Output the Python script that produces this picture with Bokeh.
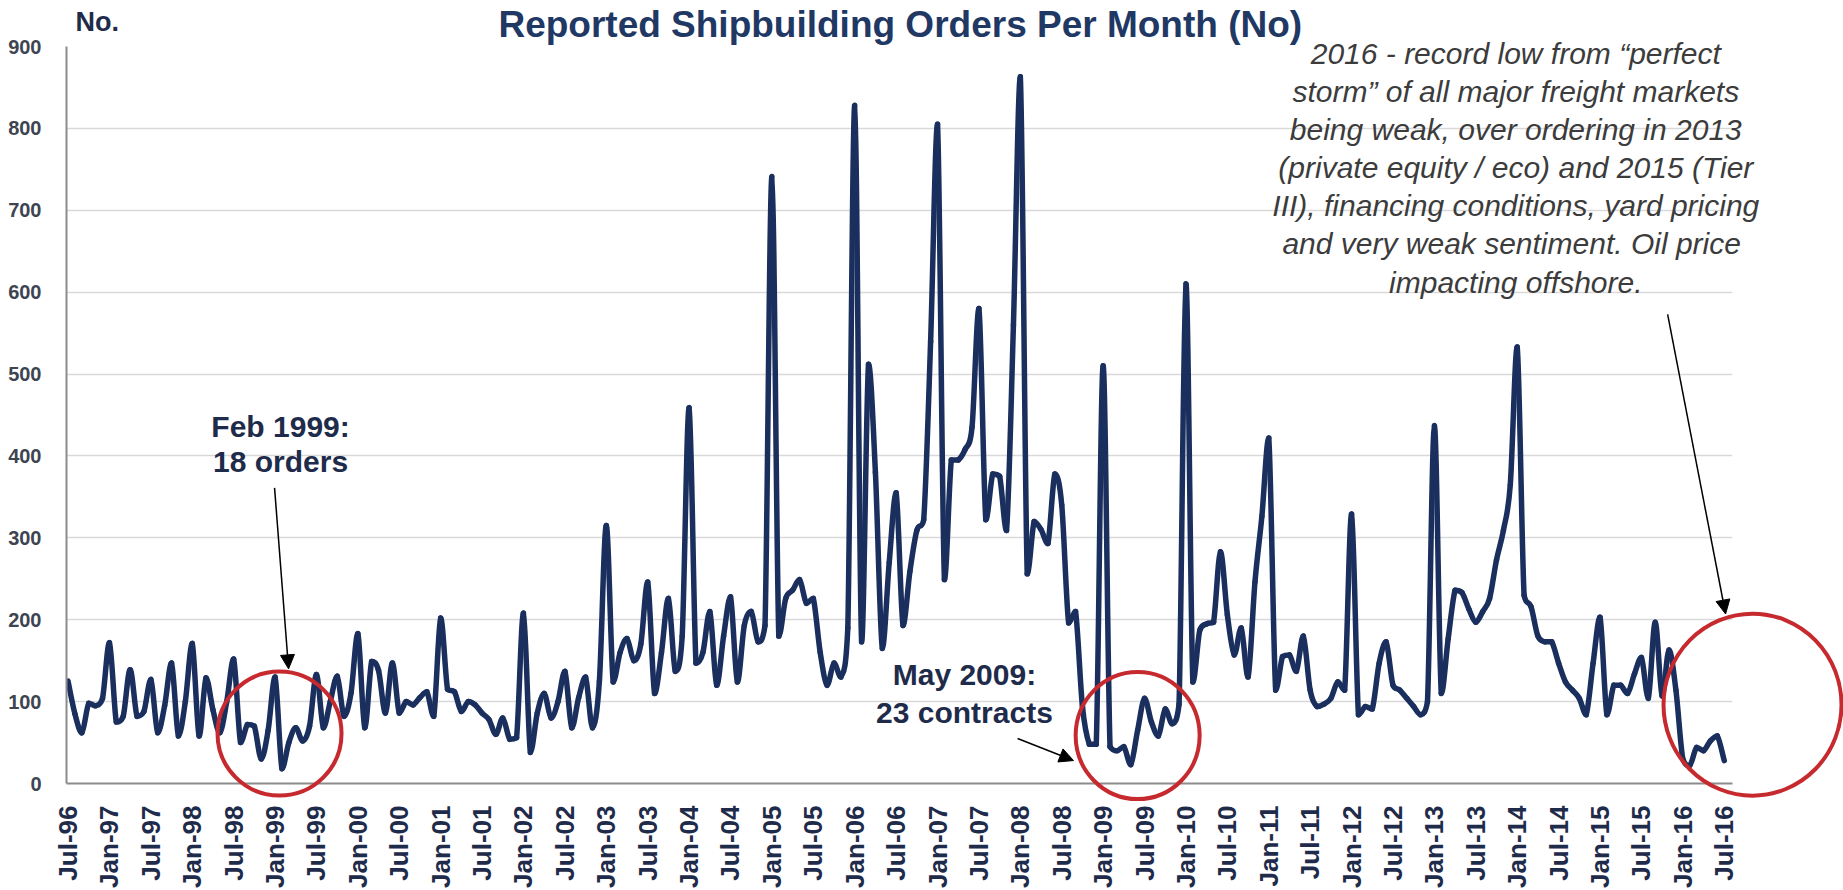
import math

from bokeh.plotting import figure
from bokeh.models import Range1d, FixedTicker, Arrow, NormalHead, ColumnDataSource
from bokeh.core.properties import value
from bokeh.embed import file_html
from bokeh.resources import INLINE

# Reported shipbuilding orders per month (number of contracts), Jul-96 .. Jul-16
orders = [
    # Jul-96 .. Jun-97
    125, 85, 62, 98, 95, 104, 172, 75, 82, 139, 82, 88,
    # Jul-97 .. Jun-98
    127, 62, 95, 147, 58, 100, 171, 58, 129, 90, 62, 100,
    # Jul-98 .. Jun-99
    152, 50, 72, 70, 30, 65, 130, 18, 50, 68, 52, 70,
    # Jul-99 .. Jun-00
    133, 68, 100, 131, 82, 110, 183, 68, 149, 138, 86, 147,
    # Jul-00 .. Jun-01
    86, 100, 96, 105, 112, 82, 202, 115, 112, 88, 100, 96,
    # Jul-01 .. Jun-02
    86, 78, 60, 80, 54, 56, 208, 38, 86, 110, 80, 100,
    # Jul-02 .. Jun-03
    137, 68, 105, 130, 68, 125, 315, 124, 160, 177, 150, 170,
    # Jul-03 .. Jun-04
    246, 110, 160, 226, 137, 180, 459, 147, 160, 210, 120, 180,
    # Jul-04 .. Jun-05
    228, 124, 193, 210, 173, 193, 741, 180, 226, 236, 249, 220,
    # Jul-05 .. Jun-06
    226, 160, 120, 147, 130, 190, 828, 173, 512, 380, 165, 270,
    # Jul-06 .. Jun-07
    355, 193, 259, 309, 322, 540, 805, 249, 395, 395, 408, 435,
    # Jul-07 .. Jun-08
    580, 322, 378, 375, 309, 560, 863, 256, 320, 310, 293, 378,
    # Jul-08 .. Jun-09
    340, 196, 210, 94, 48, 48, 510, 45, 40, 45, 23, 65,
    # Jul-09 .. Jun-10
    104, 75, 58, 91, 73, 97, 610, 124, 187, 195, 197, 283,
    # Jul-10 .. Jun-11
    206, 157, 190, 130, 246, 326, 422, 114, 155, 157, 137, 180,
    # Jul-11 .. Jun-12
    114, 94, 97, 104, 124, 114, 329, 84, 94, 91, 147, 173,
    # Jul-12 .. Jun-13
    120, 114, 104, 94, 84, 100, 437, 110, 177, 236, 233, 213,
    # Jul-13 .. Jun-14
    197, 210, 226, 273, 309, 365, 533, 230, 216, 180, 173, 173,
    # Jul-14 .. Jun-15
    147, 124, 114, 104, 84, 147, 203, 84, 120, 120, 110, 134,
    # Jul-15 .. Jun-16
    154, 104, 197, 107, 163, 114, 30, 22, 44, 40, 52, 58,
    # Jul-16
    28,
]

# category labels, one every six months
tick_labels = [
    "Jul-96", "Jan-97", "Jul-97", "Jan-98", "Jul-98", "Jan-99", "Jul-99",
    "Jan-00", "Jul-00", "Jan-01", "Jul-01", "Jan-02", "Jul-02", "Jan-03",
    "Jul-03", "Jan-04", "Jul-04", "Jan-05", "Jul-05", "Jan-06", "Jul-06",
    "Jan-07", "Jul-07", "Jan-08", "Jul-08", "Jan-09", "Jul-09", "Jan-10",
    "Jul-10", "Jan-11", "Jul-11", "Jan-12", "Jul-12", "Jan-13", "Jul-13",
    "Jan-14", "Jul-14", "Jan-15", "Jul-15", "Jan-16", "Jul-16",
]
tick_step = 6
y_ticks = [0, 100, 200, 300, 400, 500, 600, 700, 800, 900]

title_text = "Reported Shipbuilding Orders Per Month (No)"
note_lines = [
    "2016 - record low from \u201cperfect",
    "storm\u201d of all major freight markets",
    "being weak, over ordering in 2013",
    "(private equity / eco) and 2015 (Tier",
    "III), financing conditions, yard pricing",
    "and very weak sentiment.  Oil price",
    "impacting offshore.",
]

FONT = "Liberation Sans"
NAVY = "#1A2F5D"
TEXT_NAVY = "#1F2B4A"
RED = "#C62A2F"
GRID = "#D9D9D9"
AXIS = "#8C8C8C"

months = list(range(len(orders)))
tick_pos = [k * tick_step for k in range(len(tick_labels))]

p = figure(
    width=1843, height=890,
    x_range=Range1d(-0.22, 241.2), y_range=Range1d(0, 900),
    output_backend="svg", toolbar_location=None,
    min_border_left=66, min_border_right=111,
    min_border_top=46, min_border_bottom=106,
)
p.outline_line_color = None
p.background_fill_color = "white"
p.border_fill_color = "white"

# x axis: month categories
p.xaxis.ticker = FixedTicker(ticks=tick_pos)
p.xaxis.major_label_overrides = {pos: lab for pos, lab in zip(tick_pos, tick_labels)}
p.xaxis.major_label_orientation = math.pi / 2
p.xaxis.major_label_text_font = FONT
p.xaxis.major_label_text_font_size = "26px"
p.xaxis.major_label_text_font_style = "bold"
p.xaxis.major_label_text_color = TEXT_NAVY
p.xaxis.major_label_standoff = 16
p.xaxis.major_tick_line_color = None
p.xaxis.minor_tick_line_color = None
p.xaxis.axis_line_color = AXIS
p.xaxis.axis_line_width = 2

# y axis: number of orders
p.yaxis.ticker = FixedTicker(ticks=y_ticks)
p.yaxis.major_label_text_font = FONT
p.yaxis.major_label_text_font_size = "20px"
p.yaxis.major_label_text_font_style = "bold"
p.yaxis.major_label_text_color = "#3D4452"
p.yaxis.major_label_standoff = 19
p.yaxis.major_tick_line_color = None
p.yaxis.minor_tick_line_color = None
p.yaxis.axis_line_color = AXIS
p.yaxis.axis_line_width = 2

p.xgrid.visible = False
p.ygrid.ticker = FixedTicker(ticks=y_ticks)
p.ygrid.grid_line_color = GRID
p.ygrid.grid_line_width = 1.5

# smoothed monthly line: one cubic Bezier per month-to-month step, control
# points from the neighbouring months, held inside each step's own range
n = len(orders)
seg = dict(x0=[], y0=[], x1=[], y1=[], cx0=[], cy0=[], cx1=[], cy1=[])
for i in range(n - 1):
    a, b = max(i - 1, 0), min(i + 2, n - 1)
    lo, hi = min(orders[i], orders[i + 1]), max(orders[i], orders[i + 1])
    cy0 = orders[i] + (orders[i + 1] - orders[a]) / 6
    cy1 = orders[i + 1] - (orders[b] - orders[i]) / 6
    seg["x0"].append(months[i])
    seg["y0"].append(orders[i])
    seg["x1"].append(months[i + 1])
    seg["y1"].append(orders[i + 1])
    seg["cx0"].append(months[i] + (months[i + 1] - months[a]) / 6)
    seg["cy0"].append(min(max(cy0, lo), hi))
    seg["cx1"].append(months[i + 1] - (months[b] - months[i]) / 6)
    seg["cy1"].append(min(max(cy1, lo), hi))
p.bezier(x0="x0", y0="y0", x1="x1", y1="y1", cx0="cx0", cy0="cy0",
         cx1="cx1", cy1="cy1", source=ColumnDataSource(seg),
         line_color=NAVY, line_width=5.5, line_cap="round")

# red rings around the three low points
p.ellipse(x=[30.65, 155.0, 244.1], y=[61, 58.5, 96.3],
          width=[124, 124, 178], height=[124, 127, 182],
          width_units="screen", height_units="screen",
          fill_color=None, line_color=RED, line_width=4, level="overlay")

# pointer arrows
for xs, ys, xe, ye in [
    (29.93, 361, 31.96, 140),
    (137.6, 55, 145.7, 28),
    (231.8, 573, 240.2, 207),
]:
    p.add_layout(Arrow(
        end=NormalHead(size=14, fill_color="black", line_color="black", line_width=1),
        x_start=xs, y_start=ys, x_end=xe, y_end=ye,
        line_color="black", line_width=1.5,
    ))


def add_text(x, y, texts, size, color, style="bold", align="center"):
    p.text(x=x, y=y, text=texts, text_font=value(FONT), text_font_size=value(size),
           text_font_style=style, text_color=color, text_align=align,
           text_baseline="alphabetic", level="overlay")


add_text([120.6], [927], [title_text], "37px", "#1F3864")
add_text([1.1], [930], ["No."], "27px", TEXT_NAVY, align="left")

add_text([30.8, 30.8], [436, 393], ["Feb 1999:", "18 orders"], "30px", TEXT_NAVY)
add_text([129.9, 129.9], [132.5, 86.5], ["May 2009:", "23 contracts"], "30px", TEXT_NAVY)

note_top = 892
note_step = 46.6
add_text([209.8] * len(note_lines),
         [note_top - k * note_step for k in range(len(note_lines))],
         note_lines, "30px", "#3C3C3C", style="italic")

open("out.html", "w").write(file_html(p, INLINE))
